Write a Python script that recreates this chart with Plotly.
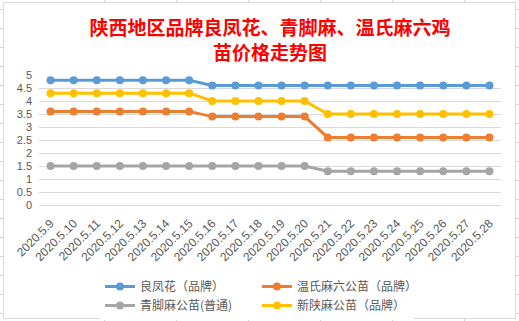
import plotly.graph_objects as go

dates = ["2020.5.9", "2020.5.10", "2020.5.11", "2020.5.12", "2020.5.13", "2020.5.14",
         "2020.5.15", "2020.5.16", "2020.5.17", "2020.5.18", "2020.5.19", "2020.5.20",
         "2020.5.21", "2020.5.22", "2020.5.23", "2020.5.24", "2020.5.25", "2020.5.26",
         "2020.5.27", "2020.5.28"]
lfh = [4.8] * 7 + [4.6] * 13
wsm = [3.6] * 7 + [3.4] * 5 + [2.6] * 8
qjm = [1.5] * 12 + [1.3] * 8
xsm = [4.3] * 7 + [4.0] * 5 + [3.5] * 8

series = [
    ("良凤花（品牌）", lfh, "#5B9BD5"),
    ("温氏麻六公苗（品牌）", wsm, "#ED7D31"),
    ("青脚麻公苗(普通)", qjm, "#A5A5A5"),
    ("新陕麻公苗（品牌）", xsm, "#FFC000"),
]

W, H = 519, 321
L, R, T, B = 39, 18, 75, 116
PW, PH = W - L - R, H - T - B

def px(x):
    return (x - L) / PW

def py(y):
    return (H - B - y) / PH

fig = go.Figure()
for name, vals, col in series:
    fig.add_trace(go.Scatter(x=dates, y=vals, name=name, mode="lines+markers",
                             line=dict(color=col, width=3),
                             marker=dict(color=col, size=8)))

shapes = []
shapes.append(dict(type="rect", xref="paper", yref="paper",
                   x0=px(3.5), x1=px(515.5), y0=py(318.5), y1=py(2.5),
                   line=dict(color="#D9D9D9", width=1), layer="below"))
for yy in [9, 28, 47, 66, 85, 104, 123, 142, 161, 180, 199, 218, 237, 256, 275, 294, 313]:
    for (a, b) in [(0, 3), (516, 519)]:
        shapes.append(dict(type="line", xref="paper", yref="paper",
                           x0=px(a), x1=px(b), y0=py(yy + 0.5), y1=py(yy + 0.5),
                           line=dict(color="#D4D4D4", width=1), layer="below"))
for xx in [104, 176, 248, 320, 392, 464]:
    for (a, b) in [(0, 2), (319, 321)]:
        shapes.append(dict(type="line", xref="paper", yref="paper",
                           x0=px(xx + 0.5), x1=px(xx + 0.5), y0=py(a), y1=py(b),
                           line=dict(color="#D4D4D4", width=1), layer="below"))

fig.update_layout(
    width=W, height=H,
    margin=dict(l=L, r=R, t=T, b=B, autoexpand=False),
    paper_bgcolor="white", plot_bgcolor="white",
    font=dict(family="Noto Sans CJK SC, sans-serif", color="#595959"),
    title=dict(text="<b>陕西地区品牌良凤花、青脚麻、温氏麻六鸡<br>苗价格走势图</b>",
               x=0.5, xref="paper", xanchor="center", y=(H - 35) / H, yanchor="middle",
               font=dict(size=19, color="#FF0000", family="Noto Sans CJK SC")),
    xaxis=dict(type="category", range=[-0.5, 19.5], showgrid=False, zeroline=False,
               showline=False, ticks="", tickangle=-45, ticklabelstandoff=8,
               automargin=False,
               tickfont=dict(size=12, color="#595959", family="Liberation Sans, Arial")),
    yaxis=dict(range=[0, 5], dtick=0.5, tick0=0, showgrid=True, gridcolor="#D9D9D9",
               gridwidth=1, zeroline=True, zerolinecolor="#D9D9D9", zerolinewidth=1,
               showline=False, ticks="", ticklabelstandoff=6, automargin=False,
               tickfont=dict(size=11, color="#595959", family="Liberation Sans, Arial")),
    legend=dict(orientation="h", x=px(100), xanchor="left",
                yref="container", y=(H - 272) / H, yanchor="top",
                entrywidth=112, entrywidthmode="pixels", itemwidth=30,
                font=dict(size=12, color="#595959"), tracegroupgap=0),
    shapes=shapes,
    showlegend=True,
)

fig.write_html("out.html")
